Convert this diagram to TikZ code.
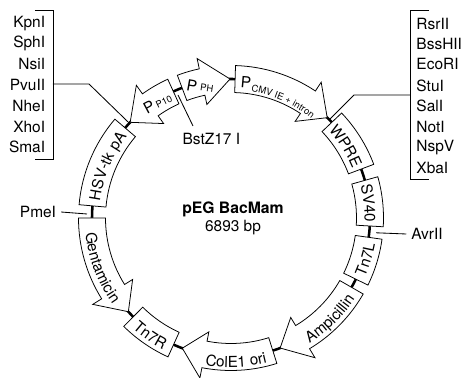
\documentclass[tikz,border=0pt]{standalone}
\usepackage{fontspec}
\setmainfont{TeX Gyre Heros}
\usepackage{tikz}
\usetikzlibrary{positioning,calc,decorations.text}

\def\Rmid{3.475}
\def\Rout{3.8125}
\def\Rin{3.1375}
\def\Rbarbout{4.075}
\def\Rbarbin{2.9}

\tikzset{
  ringpart/.style={draw, fill=white, line width=0.55pt, line join=miter},
  backbone/.style={line width=1.8pt},
  leader/.style={line width=0.6pt},
  bracket/.style={line width=0.6pt},
  sitelabel/.style={font=\fontsize{11}{12}\selectfont, inner sep=0pt},
  partlabel/.style={font=\fontsize{11}{12}\selectfont, inner sep=0pt},
  sublabel/.style={font=\fontsize{6.7}{7}\selectfont, inner sep=0pt}
}

% straight segment of the ring: start angle, end angle
\newcommand{\ringbox}[2]{
  \draw[ringpart] (#1:\Rout) arc[start angle=#1, end angle=#2, radius=\Rout]
    -- (#2:\Rin) arc[start angle=#2, end angle=#1, radius=\Rin] -- cycle;
}
% arrow segment of the ring: tail angle, neck angle, tip angle
\newcommand{\ringarrow}[3]{
  \draw[ringpart] (#1:\Rout) arc[start angle=#1, end angle=#2, radius=\Rout]
    -- (#2:\Rbarbout) -- (#3:\Rmid) -- (#2:\Rbarbin) -- (#2:\Rin)
    arc[start angle=#2, end angle=#1, radius=\Rin] -- cycle;
}
% text along the ring: start angle, end angle, radius, text
\newcommand{\ringtext}[4]{
  \path[decorate, decoration={text along path, text align=center,
    text={|\fontsize{10.8}{12}\selectfont|#4}}]
    (#1:#3) arc[start angle=#1, end angle=#2, radius=#3];
}
\newcommand{\ringsmall}[4]{
  \path[decorate, decoration={text along path, text align=center,
    text={|\fontsize{6.7}{7}\selectfont|#4}}]
    (#1:#3) arc[start angle=#1, end angle=#2, radius=#3];
}

\begin{document}
\begin{tikzpicture}
  \useasboundingbox (-5.775,-4) rectangle (5.8,5.45);

  % backbone and parts
  \draw[backbone] (0,0) circle (\Rmid);
  \ringarrow{114.5}{125.5}{136.5}
  \ringarrow{110.6}{102}{90.4}
  \ringarrow{88.3}{56.4}{46.2}
  \ringbox{43.5}{20.6}
  \ringbox{15.7}{-3.3}
  \ringbox{-8}{-26.1}
  \ringarrow{-29.9}{-59}{-69.3}
  \ringarrow{-72.5}{-101}{-110.5}
  \ringbox{225.3}{245.6}
  \ringarrow{180}{212}{222.4}
  \ringbox{175}{139.6}

  % names on the ring
  \ringtext{175}{139.6}{3.3}{HSV-tk pA}
  \ringtext{180}{222}{3.66}{Gentamicin}
  \ringtext{225.3}{245.6}{3.7}{Tn7R}
  \ringtext{-105}{-71}{3.73}{ColE1 ori}
  \ringtext{-61}{-30}{3.7}{Ampicillin}
  \ringtext{-26.1}{-8}{3.66}{Tn7L}
  \ringtext{15.7}{-3.3}{3.34}{SV40}
  \ringtext{43.5}{20.6}{3.28}{WPRE}
  \node[partlabel, rotate=-5] (pcmv) at (83.7:3.42) {P};
  \ringsmall{80}{52}{3.2}{CMV IE + intron}
  \node[partlabel, rotate=-10] (pph) at (106.5:3.44) {P};
  \node[sublabel, rotate=-8] (pphsub) at (100.5:3.3) {PH};
  \node[partlabel, rotate=28] (pp10) at (126.5:3.45) {P};
  \node[sublabel, rotate=26] (pp10sub) at (120:3.35) {P10};

  % centre
  \node[partlabel, font=\fontsize{11.2}{12}\selectfont\bfseries] (title) at (0.05,0.22) {pEG BacMam};
  \node[partlabel] (size) at (0.05,-0.25) {6893 bp};

  % left list
  \node[sitelabel, anchor=east] (kpn) at (-4.64,4.86) {KpnI};
  \node[sitelabel, anchor=east] (sph) at (-4.64,4.36) {SphI};
  \node[sitelabel, anchor=east] (nsi) at (-4.64,3.85) {NsiI};
  \node[sitelabel, anchor=east] (pvu) at (-4.64,3.33) {PvuII};
  \node[sitelabel, anchor=east] (nhe) at (-4.64,2.8) {NheI};
  \node[sitelabel, anchor=east] (xho) at (-4.64,2.28) {XhoI};
  \node[sitelabel, anchor=east] (sma) at (-4.64,1.77) {SmaI};
  \coordinate (leftup) at (-4.9,5.2);
  \coordinate (leftdown) at (-4.9,1.475);
  \coordinate (leftbar) at (-4.45,3.35);
  \coordinate (leftbend) at (-3.55,3.35);
  \coordinate (lefttip) at (137:\Rmid);
  \draw[bracket] (leftup) -- (-4.45,5.2) -- (-4.45,1.475) -- (leftdown);
  \draw[leader] (leftbar) -- (leftbend) -- (lefttip);

  % right list
  \node[sitelabel, anchor=west] (rsr) at (4.63,4.86) {RsrII};
  \node[sitelabel, anchor=west] (bss) at (4.63,4.36) {BssHII};
  \node[sitelabel, anchor=west] (eco) at (4.63,3.85) {EcoRI};
  \node[sitelabel, anchor=west] (stu) at (4.63,3.3) {StuI};
  \node[sitelabel, anchor=west] (sal) at (4.63,2.8) {SalI};
  \node[sitelabel, anchor=west] (not) at (4.63,2.28) {NotI};
  \node[sitelabel, anchor=west] (nsp) at (4.63,1.75) {NspV};
  \node[sitelabel, anchor=west] (xba) at (4.63,1.25) {XbaI};
  \coordinate (rightup) at (4.95,5.2);
  \coordinate (rightdown) at (4.95,0.975);
  \coordinate (rightbar) at (4.475,3.075);
  \coordinate (rightbend) at (3.075,3.075);
  \coordinate (righttip) at (45:\Rmid);
  \draw[bracket] (rightup) -- (4.475,5.2) -- (4.475,0.975) -- (rightdown);
  \draw[leader] (rightbar) -- (rightbend) -- (righttip);

  % single sites
  \node[sitelabel] (bstz) at (-0.49,1.975) {BstZ17 I};
  \coordinate (bstin) at (-1.325,3.075);
  \draw[leader] (bstin) -- (-0.95,2.3);
  \node[sitelabel] (pme) at (-4.825,0.15) {PmeI};
  \coordinate (pmein) at (-3.6,0.1);
  \draw[leader] (pme.east) ++(0.12,0) -- (pmein);
  \node[sitelabel] (avr) at (4.9,-0.4) {AvrII};
  \coordinate (avrin) at (3.63,-0.37);
  \draw[leader] (avr.west) ++(-0.12,0) -- (avrin);
\end{tikzpicture}
\end{document}
